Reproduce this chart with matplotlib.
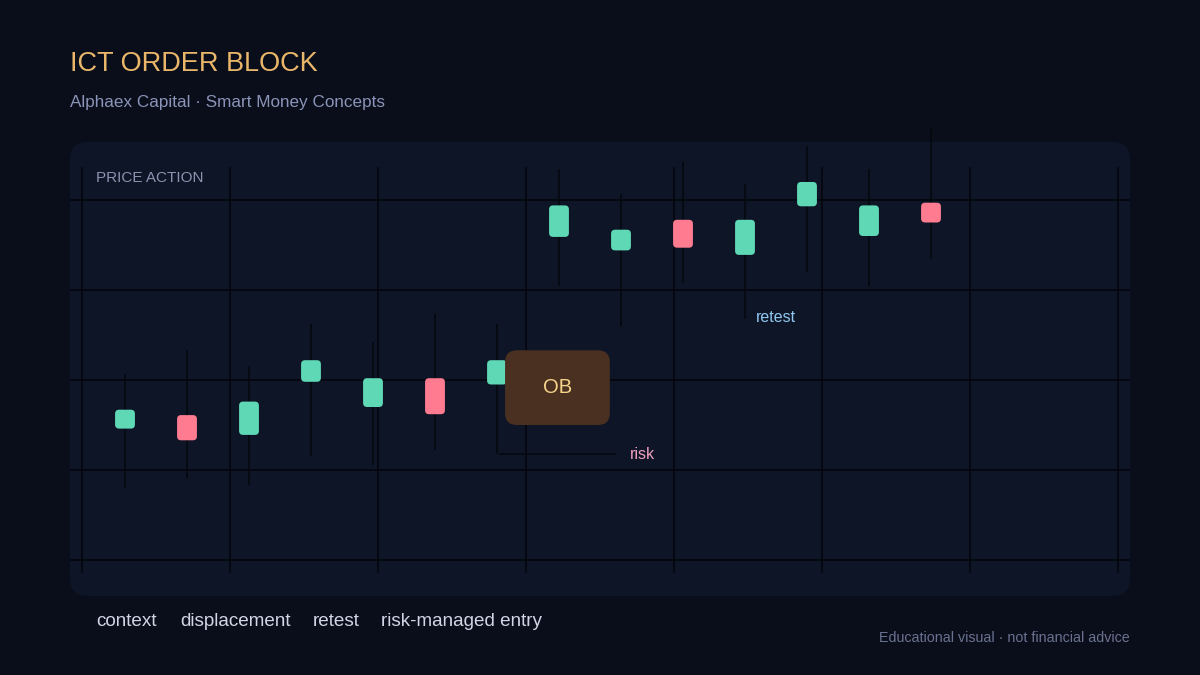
import matplotlib
matplotlib.use("Agg")
import matplotlib.pyplot as plt
from matplotlib.patches import FancyBboxPatch

plt.rcParams["font.family"] = ["Liberation Sans", "DejaVu Sans"]

# candle data (index, open, high, low, close)
idx = list(range(14))
opens = [114.6, 116.1, 113.9, 119.8, 117.0, 120.2, 119.5, 135.9, 134.4, 137.8, 133.9, 139.3, 136.0, 139.7]
highs = [120.7, 123.3, 121.6, 126.2, 124.2, 127.3, 126.2, 143.4, 140.7, 144.2, 141.8, 146.0, 143.4, 148.0]
lows = [108.0, 109.1, 108.3, 111.6, 110.6, 112.2, 111.8, 130.4, 126.0, 130.8, 126.8, 132.0, 130.5, 133.4]
closes = [116.7, 113.3, 117.6, 122.2, 120.2, 116.2, 122.2, 139.4, 136.7, 134.7, 137.8, 142.0, 139.4, 137.5]

# order block zone and annotations
ob_x = (6.13, 7.82)
ob_y = (115.0, 123.3)
risk_x = (6.03, 7.92)
risk_level = 111.8
retest_at = (10.18, 127.1)
price_levels = [100, 110, 120, 130, 140]
footer_labels = ["context", "displacement", "retest", "risk-managed entry"]

BG = "#0a0e1a"
PANEL = "#0d1526"
GREEN = "#5fd8b5"
RED = "#ff7b90"
GRID = "#03050a"

W, H = 1200, 675
fig = plt.figure(figsize=(12, 6.75), dpi=100, facecolor=BG)

# pixel-space background layer
bg = fig.add_axes([0, 0, 1, 1])
bg.set_xlim(0, W)
bg.set_ylim(H, 0)
bg.axis("off")
bg.add_patch(FancyBboxPatch((70, 142), 1060, 454,
                            boxstyle="round,pad=0,rounding_size=18",
                            fc=PANEL, ec="none"))

bg.text(70, 64, "ICT ORDER BLOCK", color="#e9b66a", fontsize=19.5, va="center", ha="left")
bg.text(70, 103, "Alphaex Capital · Smart Money Concepts", color="#8a94b8", fontsize=12.3, va="center")
bg.text(96, 178, "PRICE ACTION", color="#8a94b0", fontsize=11, va="center")
for x, lab in zip([96, 180, 313, 381], footer_labels):
    bg.text(x, 622, lab, color="#d0d6e6", fontsize=13.6, va="center")
bg.text(1130, 638, "Educational visual · not financial advice", color="#6a7290",
        fontsize=10.3, va="center", ha="right")

# price chart axes over the panel
px_per_x, px_per_y = 62.0, 9.0
ax = fig.add_axes([70 / W, 79 / H, 1060 / W, 454 / H])
ax.patch.set_alpha(0)
ax.set_xlim(-55 / px_per_x, 1005 / px_per_x)
ax.set_ylim(100 - 36 / px_per_y, 100 + 418 / px_per_y)
ax.axis("off")

for p in price_levels:
    ax.axhline(p, color=GRID, lw=1.1, zorder=1)
for k in range(8):
    ax.axvline((82 + 148 * k - 125) / px_per_x, ymin=0.0529, ymax=0.9427,
               color=GRID, lw=1.1, zorder=1)

bw = 0.32
for i, o, h, l, c in zip(idx, opens, highs, lows, closes):
    col = GREEN if c >= o else RED
    ax.vlines(i, l, h, color="#05070c", lw=1.1, zorder=2, clip_on=False)
    ax.add_patch(FancyBboxPatch((i - bw / 2, min(o, c)), bw, abs(c - o),
                                boxstyle="round,pad=0,rounding_size=%f" % (4 / px_per_x),
                                mutation_aspect=px_per_x / px_per_y,
                                fc=col, ec="none", zorder=3))

# order block
ax.add_patch(FancyBboxPatch((ob_x[0], ob_y[0]), ob_x[1] - ob_x[0], ob_y[1] - ob_y[0],
                            boxstyle="round,pad=0,rounding_size=%f" % (12 / px_per_x),
                            mutation_aspect=px_per_x / px_per_y,
                            fc="#4a3020", ec="none", zorder=4))
ax.text(sum(ob_x) / 2, sum(ob_y) / 2, "OB", color="#f5d48a", fontsize=14.5,
        ha="center", va="center", zorder=5)

# risk line and labels
ax.hlines(risk_level, risk_x[0], risk_x[1], color="#05070c", lw=1.1, zorder=2)
ax.text(risk_x[1] + 14 / px_per_x, risk_level - 0.1, "risk", color="#f0a0c0",
        fontsize=11.5, va="center", ha="left")
ax.text(retest_at[0], retest_at[1] - 0.1, "retest", color="#90c8f0",
        fontsize=11.5, va="center", ha="left")

fig.savefig("out.png", dpi=100, facecolor=BG)
